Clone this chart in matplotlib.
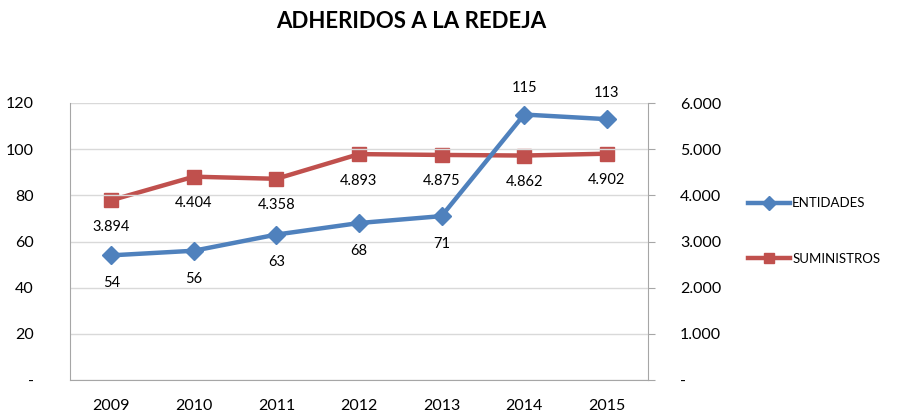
import numpy as np
from matplotlib import pyplot as plt
from matplotlib.ticker import FuncFormatter

years = ['2009', '2010', '2011', '2012', '2013', '2014', '2015']
entidades = [54, 56, 63, 68, 71, 115, 113]
suministros = [3894, 4404, 4358, 4893, 4875, 4862, 4902]

blue = '#4F81BD'
red = '#C0504D'
plt.rcParams['font.family'] = ['Lato', 'DejaVu Sans']

f = plt.figure(figsize=(8.97, 4.12), dpi=100)
ax = f.add_axes([70 / 897, 32 / 412, 578 / 897, 277 / 412])
ax2 = ax.twinx()

x = np.arange(len(years))

# grid and spines
ax.set_ylim(0, 120)
ax.set_yticks(range(0, 121, 20))
ax.yaxis.grid(True, color='#D9D9D9', lw=1)
ax.set_axisbelow(True)
ax.set_xlim(-0.5, len(years) - 0.5)
ax.set_xticks(x)
ax.set_xticklabels(years)
for s in ['left', 'bottom']:
    ax.spines[s].set_color('#A6A6A6')
ax.spines['top'].set_visible(False)
ax.spines['right'].set_visible(False)
ax.tick_params(axis='y', length=0, labelsize=11.5, pad=26)
ax.tick_params(axis='x', length=0, labelsize=11.5, pad=14)
ax.yaxis.set_major_formatter(FuncFormatter(lambda v, p: '-' if v == 0 else '%d' % v))

ax2.set_ylim(0, 6000)
ax2.set_yticks(range(0, 6001, 1000))
ax2.yaxis.set_major_formatter(FuncFormatter(
    lambda v, p: '-' if v == 0 else '{:,.0f}'.format(v).replace(',', '.')))
for s in ['left', 'bottom', 'top']:
    ax2.spines[s].set_visible(False)
ax2.spines['right'].set_color('#A6A6A6')
ax2.tick_params(axis='y', length=5, color='#A6A6A6', labelsize=11.5, pad=18)

# series
l1, = ax.plot(x, entidades, color=blue, lw=3.2, marker='D', ms=9,
              label='ENTIDADES', zorder=3)
l2, = ax2.plot(x, suministros, color=red, lw=3.2, marker='s', ms=10,
               label='SUMINISTROS', zorder=3)
ax.set_zorder(ax2.get_zorder() + 1)
ax.patch.set_visible(False)

# data labels
for i, v in enumerate(entidades):
    if v > 100:
        ax.annotate(str(v), (x[i], v), xytext=(0, 14), textcoords='offset points',
                    ha='center', va='bottom', fontsize=10.5)
    else:
        ax.annotate(str(v), (x[i], v), xytext=(0, -15), textcoords='offset points',
                    ha='center', va='top', fontsize=10.5)
for i, v in enumerate(suministros):
    ax2.annotate('{:,}'.format(v).replace(',', '.'), (x[i], v), xytext=(0, -14),
                 textcoords='offset points', ha='center', va='top', fontsize=10.5)

f.text(411 / 897, 1 - 22 / 412, 'ADHERIDOS A LA REDEJA', ha='center', va='center',
       fontsize=16, fontweight='bold')

f.legend(handles=[l1, l2], loc='center left', bbox_to_anchor=(736 / 897, 1 - 231 / 412),
         frameon=False, fontsize=9.5, handlelength=3.2, labelspacing=3.3,
         handletextpad=0.15, markerscale=0.75)

f.savefig('out.png', dpi=100)
